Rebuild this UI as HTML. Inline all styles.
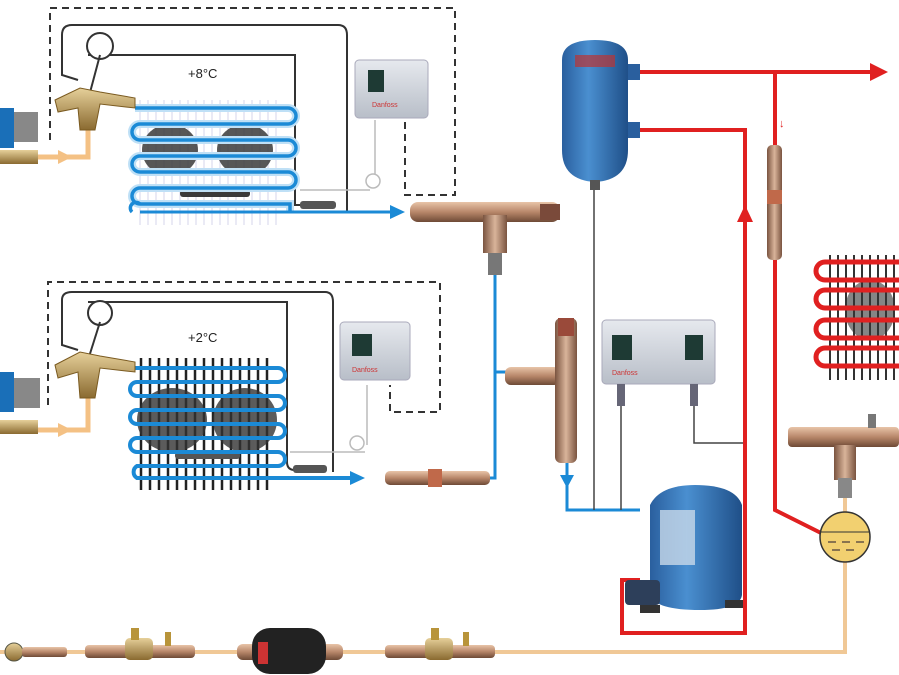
<!DOCTYPE html>
<html><head><meta charset="utf-8"><style>
html,body{margin:0;padding:0;background:#fff}
svg{display:block}
text{font-family:"Liberation Sans",sans-serif}
</style></head><body>
<svg width="899" height="675" viewBox="0 0 899 675" xmlns="http://www.w3.org/2000/svg">
<defs>
<linearGradient id="cu" x1="0" y1="0" x2="0" y2="1"><stop offset="0" stop-color="#e8c4a8"/><stop offset="0.5" stop-color="#b8876a"/><stop offset="1" stop-color="#6e4a36"/></linearGradient>
<linearGradient id="cuv" x1="0" y1="0" x2="1" y2="0"><stop offset="0" stop-color="#7a5440"/><stop offset="0.5" stop-color="#d9b49a"/><stop offset="1" stop-color="#7a5440"/></linearGradient>
<linearGradient id="br" x1="0" y1="0" x2="0" y2="1"><stop offset="0" stop-color="#e6d09a"/><stop offset="1" stop-color="#8a6a30"/></linearGradient>
<linearGradient id="bl" x1="0" y1="0" x2="1" y2="0"><stop offset="0" stop-color="#2a5f9e"/><stop offset="0.4" stop-color="#4a8fd0"/><stop offset="1" stop-color="#1f4f88"/></linearGradient>
<linearGradient id="gy" x1="0" y1="0" x2="0" y2="1"><stop offset="0" stop-color="#e6e9ee"/><stop offset="1" stop-color="#b8bec8"/></linearGradient>
</defs>

<path d="M50 140 V8 H455 V195 H405 V122" fill="none" stroke="#333" stroke-width="2" stroke-dasharray="7,5"/>
<path d="M48 405 V282 H440 V412 H390 V385" fill="none" stroke="#333" stroke-width="2" stroke-dasharray="7,5"/>

<path d="M78 80 L62 75 V35 Q62 25 72 25 H338 Q347 25 347 35 V212" fill="none" stroke="#333" stroke-width="2"/>
<path d="M88 55 H295 V205 H310" fill="none" stroke="#333" stroke-width="2"/>
<circle cx="100" cy="46" r="13" fill="#fff" stroke="#333" stroke-width="2"/>
<path d="M88 100 L100 55" stroke="#333" stroke-width="2"/>
<path d="M300 190 H370 M375 120 V180" fill="none" stroke="#bbb" stroke-width="1.5"/>
<circle cx="373" cy="181" r="7" fill="#fff" stroke="#bbb" stroke-width="1.5"/>
<rect x="300" y="201" width="36" height="8" rx="3" fill="#555"/>

<path d="M78 350 L62 345 V300 Q62 292 72 292 H325 Q333 292 333 302 V472" fill="none" stroke="#333" stroke-width="2"/>
<path d="M88 302 H287 V462 Q287 470 295 470 H325" fill="none" stroke="#333" stroke-width="2"/>
<circle cx="100" cy="313" r="12" fill="#fff" stroke="#333" stroke-width="2"/>
<path d="M88 360 L100 322" stroke="#333" stroke-width="2"/>
<path d="M290 452 H365 M367 385 V445" fill="none" stroke="#bbb" stroke-width="1.5"/>
<circle cx="357" cy="443" r="7" fill="#fff" stroke="#bbb" stroke-width="1.5"/>
<rect x="293" y="465" width="34" height="8" rx="3" fill="#555"/>

<g stroke="#dde" stroke-width="1.2">
<path d="M140 100 V225 M148 100 V225 M156 100 V225 M164 100 V225 M172 100 V225 M180 100 V225 M188 100 V225 M196 100 V225 M204 100 V225 M212 100 V225 M220 100 V225 M228 100 V225 M236 100 V225 M244 100 V225 M252 100 V225 M260 100 V225 M268 100 V225 M276 100 V225"/>
</g>
<g fill="#3a3a3a">
<ellipse cx="170" cy="150" rx="28" ry="26" opacity="0.85"/>
<ellipse cx="245" cy="150" rx="28" ry="26" opacity="0.85"/>
<rect x="180" y="190" width="70" height="7" rx="3"/>
</g>
<path d="M135 108 H288 A8 8 0 0 1 288 124 H140 A8 8 0 0 0 140 140 H288 A8 8 0 0 1 288 156 H140 A8 8 0 0 0 140 172 H288 A8 8 0 0 1 288 188 H140 A8 8 0 0 0 140 204 H290 V212" fill="none" stroke="#bfe0f6" stroke-width="8"/>
<path d="M135 108 H288 A8 8 0 0 1 288 124 H140 A8 8 0 0 0 140 140 H288 A8 8 0 0 1 288 156 H140 A8 8 0 0 0 140 172 H288 A8 8 0 0 1 288 188 H140 A8 8 0 0 0 140 204 H290 V212" fill="none" stroke="#1b8ad6" stroke-width="3.5"/>
<path d="M140 212 H395" stroke="#1b8ad6" stroke-width="3"/>
<path d="M132 212 A4 4 0 0 1 140 204" fill="none" stroke="#1b8ad6" stroke-width="3.5"/>
<polygon points="405,212 390,205 390,219" fill="#1b8ad6"/>
<text x="188" y="78" font-size="13" fill="#222">+8°C</text>

<g stroke="#222" stroke-width="2.5">
<path d="M141 358 V490 M150 358 V490 M159 358 V490 M168 358 V490 M177 358 V490 M186 358 V490 M195 358 V490 M204 358 V490 M213 358 V490 M222 358 V490 M231 358 V490 M240 358 V490 M249 358 V490 M258 358 V490 M267 358 V490"/>
</g>
<g fill="#333" opacity="0.8">
<ellipse cx="172" cy="420" rx="35" ry="32"/>
<ellipse cx="245" cy="420" rx="32" ry="32"/>
</g>
<rect x="175" y="452" width="65" height="7" rx="3" fill="#555"/>
<path d="M135 368 H278 A7 7 0 0 1 278 382 H137 A7 7 0 0 0 137 396 H278 A7 7 0 0 1 278 410 H137 A7 7 0 0 0 137 424 H278 A7 7 0 0 1 278 438 H137 A7 7 0 0 0 137 452 H278 A7 7 0 0 1 278 466 H137 A7 7 0 0 0 137 478 H350" fill="none" stroke="#1b8ad6" stroke-width="4"/>
<polygon points="365,478 350,471 350,485" fill="#1b8ad6"/>
<text x="188" y="342" font-size="13" fill="#222">+2°C</text>

<rect x="355" y="60" width="73" height="58" rx="4" fill="url(#gy)" stroke="#aab"/>
<rect x="368" y="70" width="16" height="22" fill="#1e3a34"/>
<text x="372" y="107" font-size="7" fill="#c33">Danfoss</text>
<rect x="340" y="322" width="70" height="58" rx="4" fill="url(#gy)" stroke="#aab"/>
<rect x="352" y="334" width="20" height="22" fill="#1e3a34"/>
<text x="352" y="372" font-size="7" fill="#c33">Danfoss</text>

<rect x="0" y="108" width="14" height="40" fill="#1a6fb8"/>
<rect x="14" y="112" width="24" height="30" fill="#888"/>
<rect x="0" y="150" width="38" height="14" fill="url(#br)"/>
<path d="M38 157 H88 V120" fill="none" stroke="#f4c184" stroke-width="5"/>
<polygon points="72,157 58,150 58,164" fill="#f4c184"/>
<path d="M55 100 L80 88 L100 92 L135 98 V108 L100 104 L95 130 H80 L78 108 L58 112 Z" fill="url(#br)" stroke="#7a5a20"/>
<rect x="0" y="372" width="14" height="40" fill="#1a6fb8"/>
<rect x="14" y="378" width="26" height="30" fill="#888"/>
<rect x="0" y="420" width="38" height="14" fill="url(#br)"/>
<path d="M38 430 H88 V395" fill="none" stroke="#f4c184" stroke-width="5"/>
<polygon points="72,430 58,423 58,437" fill="#f4c184"/>
<path d="M55 365 L80 352 L100 356 L135 362 V372 L100 368 L95 398 H80 L78 372 L58 378 Z" fill="url(#br)" stroke="#7a5a20"/>

<rect x="410" y="202" width="150" height="20" rx="8" fill="url(#cu)"/>
<rect x="540" y="204" width="20" height="16" fill="#7a4a3a"/>
<rect x="483" y="215" width="24" height="38" fill="url(#cuv)"/>
<rect x="488" y="253" width="14" height="22" fill="#777"/>
<path d="M495 275 V478 H490" fill="none" stroke="#1b8ad6" stroke-width="3"/>
<rect x="385" y="471" width="105" height="14" rx="5" fill="url(#cu)"/>
<rect x="428" y="469" width="14" height="18" fill="#c0694a"/>
<path d="M495 372 H515" stroke="#1b8ad6" stroke-width="3"/>

<rect x="505" y="367" width="55" height="18" rx="6" fill="url(#cu)"/>
<rect x="555" y="318" width="22" height="145" rx="6" fill="url(#cuv)"/>
<rect x="558" y="318" width="16" height="18" fill="#9a4a3a"/>
<path d="M567 463 V510 H640" fill="none" stroke="#1b8ad6" stroke-width="3"/>
<polygon points="567,488 560,475 574,475" fill="#1b8ad6"/>

<path d="M562 60 Q562 40 595 40 Q628 40 628 60 V150 Q628 180 595 182 Q562 180 562 150 Z" fill="url(#bl)"/>
<rect x="590" y="180" width="10" height="10" fill="#555"/>
<rect x="575" y="55" width="40" height="12" fill="#b33" opacity="0.7"/>
<rect x="628" y="64" width="12" height="16" fill="#2a5f9e"/>
<rect x="628" y="122" width="12" height="16" fill="#2a5f9e"/>
<path d="M594 190 V510" stroke="#444" stroke-width="1.5"/>

<rect x="602" y="320" width="113" height="64" rx="4" fill="url(#gy)" stroke="#aab"/>
<rect x="612" y="335" width="20" height="25" fill="#1e3a34"/>
<rect x="685" y="335" width="18" height="25" fill="#1e3a34"/>
<text x="612" y="375" font-size="7" fill="#c33">Danfoss</text>
<rect x="617" y="384" width="8" height="22" fill="#667"/>
<rect x="690" y="384" width="8" height="22" fill="#667"/>
<path d="M621 406 V510 M694 406 V443 H745" fill="none" stroke="#444" stroke-width="1.5"/>

<path d="M640 72 H875" stroke="#e02020" stroke-width="4"/>
<polygon points="888,72 870,63 870,81" fill="#e02020"/>
<path d="M640 130 H745 V633 H622 V580 H640" fill="none" stroke="#e02020" stroke-width="4"/>
<polygon points="745,205 737,222 753,222" fill="#e02020"/>
<path d="M775 72 V510 L825 535" fill="none" stroke="#e02020" stroke-width="4"/>
<rect x="767" y="145" width="15" height="115" rx="5" fill="url(#cuv)"/>
<rect x="767" y="190" width="15" height="14" fill="#c0694a"/>
<text x="779" y="127" font-size="11" fill="#e02020">↓</text>

<g stroke="#333" stroke-width="2"><path d="M830 255 V380 M838 255 V380 M846 255 V380 M854 255 V380 M862 255 V380 M870 255 V380 M878 255 V380 M886 255 V380 M894 255 V380"/></g>
<ellipse cx="870" cy="310" rx="25" ry="30" fill="#333" opacity="0.6"/>
<path d="M899 262 H825 A9 9 0 0 0 825 280 H899 M899 290 H825 A9 9 0 0 0 825 308 H899 M899 320 H825 A9 9 0 0 0 825 338 H899 M899 348 H825 A9 9 0 0 0 825 366 H899" fill="none" stroke="#e02020" stroke-width="5"/>

<rect x="788" y="427" width="111" height="20" rx="4" fill="url(#cu)"/>
<rect x="868" y="414" width="8" height="14" fill="#777"/>
<rect x="834" y="445" width="22" height="35" fill="url(#cuv)"/>
<rect x="838" y="478" width="14" height="20" fill="#888"/>
<path d="M845 498 V512 M845 562 V652 H0" fill="none" stroke="#f0c896" stroke-width="4"/>
<circle cx="845" cy="537" r="25" fill="#f2d070" stroke="#333" stroke-width="1.5"/>
<path d="M821 532 H869" stroke="#333" stroke-width="1"/>
<path d="M828 542 h8 M842 542 h8 M856 542 h8 M832 550 h8 M846 550 h8" stroke="#654" stroke-width="1.5"/>

<path d="M650 505 Q660 485 695 485 Q735 485 742 505 V595 Q740 610 700 610 Q655 610 650 595 Z" fill="url(#bl)"/>
<rect x="660" y="510" width="35" height="55" fill="#c8d8e8" opacity="0.8"/>
<rect x="625" y="580" width="35" height="25" rx="4" fill="#2d3f5a"/>
<rect x="640" y="605" width="20" height="8" fill="#333"/>
<rect x="725" y="600" width="18" height="8" fill="#333"/>

<circle cx="14" cy="652" r="9" fill="url(#br)" stroke="#554"/>
<rect x="22" y="647" width="45" height="10" rx="3" fill="url(#cu)"/>
<rect x="85" y="645" width="110" height="13" rx="4" fill="url(#cu)"/>
<rect x="125" y="638" width="28" height="22" rx="5" fill="url(#br)"/>
<rect x="131" y="628" width="8" height="12" fill="#b8943a"/>
<rect x="165" y="632" width="6" height="14" fill="#b8943a"/>
<rect x="237" y="644" width="106" height="16" rx="6" fill="url(#cu)"/>
<rect x="252" y="628" width="74" height="46" rx="18" fill="#222"/>
<rect x="258" y="642" width="10" height="22" fill="#c33"/>
<rect x="385" y="645" width="110" height="13" rx="4" fill="url(#cu)"/>
<rect x="425" y="638" width="28" height="22" rx="5" fill="url(#br)"/>
<rect x="431" y="628" width="8" height="12" fill="#b8943a"/>
<rect x="463" y="632" width="6" height="14" fill="#b8943a"/>
</svg>
</body></html>
